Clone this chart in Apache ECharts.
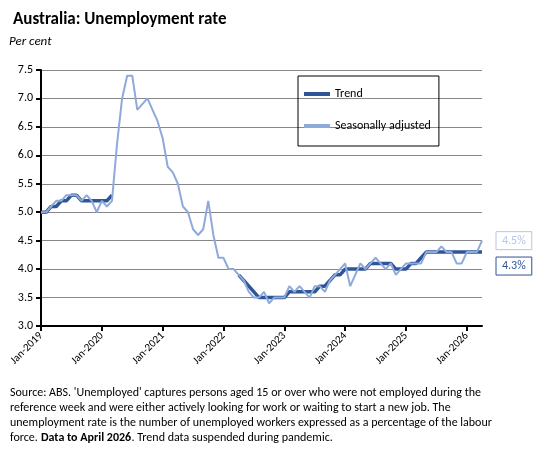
<!DOCTYPE html>
<html><head><meta charset="utf-8">
<script src="https://cdn.jsdelivr.net/npm/echarts@6/dist/echarts.min.js"></script>
<style>body{margin:0}#c{width:548px;height:454px}</style></head>
<body><div id="c"></div>
<script>
var years = [2019, 2020, 2021, 2022, 2023, 2024, 2025, 2026];
var monthNames = ['Jan','Feb','Mar','Apr','May','Jun','Jul','Aug','Sep','Oct','Nov','Dec'];
var months = [];
years.forEach(function (y) {
  monthNames.forEach(function (m) { if (months.length < 88) months.push(m + '-' + y); });
});

var seasAdj = [
  5.0,5.0,5.1,5.2,5.2,5.3,5.3,5.3,5.2,5.3,5.2,5.0,
  5.2,5.1,5.2,6.2,7.0,7.4,7.4,6.8,6.9,7.0,6.8,6.6,
  6.3,5.8,5.7,5.5,5.1,5.0,4.7,4.6,4.7,5.2,4.6,4.2,
  4.2,4.0,4.0,3.9,3.8,3.6,3.5,3.5,3.6,3.4,3.5,3.5,
  3.5,3.7,3.6,3.7,3.6,3.5,3.7,3.7,3.6,3.8,3.9,4.0,
  4.1,3.7,3.9,4.1,4.0,4.1,4.2,4.1,4.0,4.1,3.9,4.0,
  4.1,4.1,4.1,4.1,4.3,4.3,4.3,4.4,4.3,4.3,4.1,4.1,
  4.3,4.3,4.3,4.5
];
var trend = [
  5.0,5.0,5.1,5.1,5.2,5.2,5.3,5.3,5.2,5.2,5.2,5.2,
  5.2,5.2,5.3,null,null,null,null,null,null,null,null,null,
  null,null,null,null,null,null,null,null,null,null,null,null,
  null,null,null,3.9,3.8,3.7,3.6,3.5,3.5,3.5,3.5,3.5,
  3.5,3.6,3.6,3.6,3.6,3.6,3.6,3.7,3.7,3.8,3.9,3.9,
  4.0,4.0,4.0,4.0,4.0,4.1,4.1,4.1,4.1,4.1,4.0,4.0,
  4.0,4.1,4.1,4.2,4.3,4.3,4.3,4.3,4.3,4.3,4.3,4.3,
  4.3,4.3,4.3,4.3
];

var chart = echarts.init(document.getElementById('c'));
var font = 'Calibri, Carlito, "Liberation Sans", Arial, sans-serif';
chart.setOption({
  animation: false,
  textStyle: { fontFamily: font },
  title: {
    text: 'Australia: Unemployment rate', left: 8, top: 6,
    textStyle: { fontSize: 17, fontWeight: 'bold', color: '#000', fontFamily: font }
  },
  legend: {
    orient: 'vertical', left: 298, top: 76, itemGap: 20,
    padding: [12, 8, 14, 6], borderColor: '#000', borderWidth: 1,
    itemWidth: 26, itemHeight: 4, icon: 'rect',
    textStyle: { fontSize: 12, color: '#000' },
    data: ['Trend', 'Seasonally adjusted']
  },
  grid: { left: 41, right: 66, top: 70, bottom: 128 },
  xAxis: {
    type: 'category', data: months, boundaryGap: false,
    axisLine: { lineStyle: { color: '#000', width: 2 } },
    axisTick: { interval: 11, length: 5, lineStyle: { color: '#000', width: 2 } },
    axisLabel: { interval: 11, rotate: 45, fontSize: 11, color: '#000', margin: 8 }
  },
  yAxis: {
    type: 'value', min: 3.0, max: 7.5, interval: 0.5,
    name: 'Per cent', nameLocation: 'end', nameGap: 16,
    nameTextStyle: { fontStyle: 'italic', fontSize: 13, color: '#000', align: 'left', padding: [0, 0, 6, -32] },
    axisLine: { show: true, lineStyle: { color: '#000', width: 2 } },
    axisTick: { show: true, length: 5, lineStyle: { color: '#000', width: 2 } },
    axisLabel: { fontSize: 12, color: '#000', formatter: function (v) { return v.toFixed(1); } },
    splitLine: { lineStyle: { color: '#888', width: 1 } }
  },
  series: [
    {
      name: 'Trend', type: 'line', data: trend, symbol: 'none',
      lineStyle: { color: '#2f5597', width: 3.5 }, itemStyle: { color: '#2f5597' },
      endLabel: {
        show: true, formatter: '4.3%', color: '#2f5597', fontSize: 12,
        borderColor: '#2f5597', borderWidth: 1, padding: [3, 6], offset: [6, 14]
      }
    },
    {
      name: 'Seasonally adjusted', type: 'line', data: seasAdj, symbol: 'none',
      lineStyle: { color: '#8eaadb', width: 2 }, itemStyle: { color: '#8eaadb' },
      endLabel: {
        show: true, formatter: '4.5%', color: '#b4c7e7', fontSize: 12,
        borderColor: '#b4c7e7', borderWidth: 1, padding: [3, 6], offset: [6, 0]
      }
    }
  ],
  graphic: [{
    type: 'text', left: 10, top: 385,
    style: {
      width: 508, overflow: 'break', lineHeight: 15, fontSize: 12, fill: '#000', fontFamily: font,
      text: "Source: ABS. 'Unemployed' captures persons aged 15 or over who were not employed during the reference week and were either actively looking for work or waiting to start a new job. The unemployment rate is the number of unemployed workers expressed as a percentage of the labour force. {b|Data to April 2026}. Trend data suspended during pandemic.",
      rich: { b: { fontWeight: 'bold', fontSize: 12, fontFamily: font } }
    }
  }]
});
</script>
</body></html>
